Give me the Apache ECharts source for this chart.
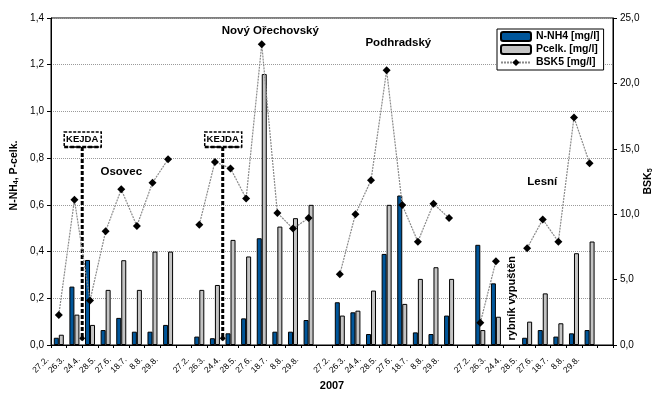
<!DOCTYPE html>
<html>
<head>
<meta charset="utf-8">
<script src="https://cdn.jsdelivr.net/npm/echarts@6/dist/echarts.min.js"></script>
<style>
html,body{margin:0;padding:0;background:#fff;}
#chart{width:655px;height:393px;}
</style>
</head>
<body>
<div id="chart"></div>
<script>
// sampling dates (repeated for each pond)
const dates = ['27.2.','26.3.','24.4.','28.5.','27.6.','18.7.','8.8.','29.8.'];
const groupNames = ['Osovec','Nový Ořechovský','Podhradský','Lesní'];

// N-NH4 [mg/l]
const nnh4Osovec = [0.031,0.25,0.364,0.064,0.116,0.057,0.057,0.086];
const nnh4Novy   = [0.036,0.029,0.05,0.114,0.457,0.057,0.057,0.107];
const nnh4Podhr  = [0.183,0.14,0.047,0.39,0.64,0.054,0.047,0.126];
const nnh4Lesni  = [0.429,0.264,null,0.031,0.064,0.036,0.05,0.064];

// Pcelk. [mg/l]
const pcelkOsovec = [0.044,0.13,0.086,0.236,0.363,0.236,0.40,0.40];
const pcelkNovy   = [0.236,0.257,0.45,0.379,1.16,0.507,0.543,0.60];
const pcelkPodhr  = [0.126,0.147,0.233,0.60,0.176,0.283,0.333,0.283];
const pcelkLesni  = [0.064,0.121,null,0.10,0.221,0.093,0.393,0.443];

// BSK5 [mg/l]
const bskOsovec = [2.3,11.1,3.4,8.7,11.9,9.1,12.4,14.2];
const bskNovy   = [9.2,14.0,13.5,11.2,23.0,10.1,8.9,9.7];
const bskPodhr  = [5.4,10.0,12.6,21.0,10.7,7.9,10.8,9.7];
const bskLesni  = [1.7,6.4,null,7.4,9.6,7.9,17.4,13.9];

// axis ticks
const leftTicks = {min:0, max:1.4, interval:0.2};
const rightTicks = {min:0, max:25, interval:5};

// build 36 slots: 4 groups of 8, each followed by a blank slot
function joinGroups(arrs, blank){
  const out = [];
  arrs.forEach(a => { a.forEach(v => out.push(v)); out.push(blank); });
  return out;
}
const categories = joinGroups([dates,dates,dates,dates], '');
const nnh4 = joinGroups([nnh4Osovec,nnh4Novy,nnh4Podhr,nnh4Lesni], null);
const pcelk = joinGroups([pcelkOsovec,pcelkNovy,pcelkPodhr,pcelkLesni], null);
const bsk = joinGroups([bskOsovec,bskNovy,bskPodhr,bskLesni], null);

const FONT = '"Liberation Sans", Arial, sans-serif';
const comma = v => v.toFixed(1).replace('.', ',');

const chart = echarts.init(document.getElementById('chart'), null, {renderer:'canvas'});
chart.setOption({
  animation:false,
  backgroundColor:'#fff',
  textStyle:{fontFamily:FONT},
  grid:{left:51,right:42,top:18,bottom:48,containLabel:false,outerBoundsMode:'none',
    show:true,borderColor:'#000',borderWidth:1,backgroundColor:'transparent'},
  legend:{
    orient:'vertical', left:497, top:29,
    backgroundColor:'#fff', borderColor:'#000', borderWidth:1,
    padding:[2,4,2,3], itemGap:2, itemWidth:30, itemHeight:9,
    textStyle:{fontFamily:FONT,fontSize:10.5,fontWeight:'bold',color:'#000'},
    data:['N-NH4 [mg/l]','Pcelk. [mg/l]','BSK5 [mg/l]']
  },
  xAxis:{
    type:'category', data:categories,
    boundaryGap:true,
    name:'2007', nameLocation:'middle', nameGap:35, nameMoveOverlap:false,
    nameTextStyle:{fontFamily:FONT,fontSize:11,fontWeight:'bold',color:'#000'},
    axisLine:{lineStyle:{color:'#000',width:1}},
    axisTick:{show:true,interval:0,length:3,lineStyle:{color:'#000'}},
    axisLabel:{interval:0,rotate:45,fontSize:8.5,color:'#000',margin:2,padding:[0,16,0,0],fontFamily:FONT},
    splitLine:{show:false}
  },
  yAxis:[{
    type:'value', min:leftTicks.min, max:leftTicks.max, interval:leftTicks.interval,
    name:'N-NH{sub|4}, P-celk.', nameLocation:'middle', nameGap:31, nameRotate:90, nameMoveOverlap:false,
    nameTextStyle:{fontFamily:FONT,fontSize:10.5,fontWeight:'bold',color:'#000',padding:[0,0,0,12],
      rich:{sub:{fontSize:7,fontWeight:'bold',verticalAlign:'bottom',padding:[4,0,0,0],fontFamily:FONT}}},
    axisLine:{show:true,lineStyle:{color:'#000',width:1}},
    axisTick:{show:true,length:4,lineStyle:{color:'#000'}},
    axisLabel:{formatter:comma,fontSize:10,color:'#000',margin:7,fontFamily:FONT},
    splitLine:{show:true,lineStyle:{color:'#9a9a9a',type:'dotted',width:1}}
  },{
    type:'value', min:rightTicks.min, max:rightTicks.max, interval:rightTicks.interval,
    position:'right',
    name:'BSK{sub|5}', nameLocation:'middle', nameGap:30, nameRotate:90, nameMoveOverlap:false,
    nameTextStyle:{fontFamily:FONT,fontSize:10.5,fontWeight:'bold',color:'#000',
      rich:{sub:{fontSize:7,fontWeight:'bold',verticalAlign:'bottom',padding:[4,0,0,0],fontFamily:FONT}}},
    axisLine:{show:true,lineStyle:{color:'#000',width:1}},
    axisTick:{show:true,length:4,lineStyle:{color:'#000'}},
    axisLabel:{formatter:comma,fontSize:10,color:'#000',margin:7,fontFamily:FONT},
    splitLine:{show:false}
  }],
  series:[{
    name:'N-NH4 [mg/l]', type:'bar', data:nnh4, yAxisIndex:0,
    barWidth:5, barGap:'0%',
    itemStyle:{color:'#00569a',borderColor:'#000',borderWidth:1}
  },{
    name:'Pcelk. [mg/l]', type:'bar', data:pcelk, yAxisIndex:0,
    barWidth:5, barGap:'0%',
    itemStyle:{color:'#c4c4c4',borderColor:'#000',borderWidth:1}
  },{
    name:'BSK5 [mg/l]', type:'line', data:bsk, yAxisIndex:1,
    connectNulls:false,
    symbol:'diamond', symbolSize:8,
    itemStyle:{color:'#000'},
    lineStyle:{color:'#8a8a8a',width:1.2,type:[2,1]}
  }]
});

// annotations positioned through the axes
function xPix(i){ return chart.convertToPixel({xAxisIndex:0}, i); }
function xMid(a, f){ const p = xPix(a); return p + (xPix(a+1)-p)*f; }
function yPix(v){ return chart.convertToPixel({yAxisIndex:0}, v); }

const graphics = [];
function label(text, x, y){
  graphics.push({type:'text', x:x, y:y,
    style:{text:text, fill:'#000', font:'bold 11.5px '+FONT, textAlign:'center', textVerticalAlign:'middle'}});
}
function kejda(iA){
  const x = xMid(iA, 0.5);
  const top = yPix(0.912), bot = yPix(0.848);
  const ground = yPix(0.02);
  graphics.push({type:'line', shape:{x1:x,y1:bot,x2:x,y2:ground},
    style:{stroke:'#000',lineWidth:3,lineDash:[4,2]}});
  graphics.push({type:'polygon', shape:{points:[[x-3,ground-2],[x,ground-5],[x+3,ground-2],[x,ground+1]]},
    style:{fill:'#000'}});
  graphics.push({type:'rect', shape:{x:x-18,y:top,width:37,height:bot-top},
    style:{fill:'#fff',stroke:'#000',lineWidth:1.5,lineDash:[3,1.5]}});
  graphics.push({type:'line', shape:{x1:x-18,y1:bot,x2:x+19,y2:bot},
    style:{stroke:'#000',lineWidth:2.5,lineDash:[4,2]}});
  graphics.push({type:'text', x:x, y:(top+bot)/2,
    style:{text:'KEJDA', fill:'#000', font:'bold 9.5px '+FONT, textAlign:'center', textVerticalAlign:'middle'}});
}
kejda(1);
kejda(10);

label(groupNames[0], xMid(3, 1.0), yPix(0.74));
label(groupNames[1], xMid(13, 0.55), yPix(1.343));
label(groupNames[2], xMid(21, 0.75), yPix(1.295));
label(groupNames[3], xMid(30, 0.97), yPix(0.698));
graphics.push({type:'text', x:xPix(29), y:yPix(0.20), rotation:Math.PI/2,
  style:{text:'rybník vypuštěn', fill:'#000', font:'bold 11px '+FONT, textAlign:'center', textVerticalAlign:'middle'}});

chart.setOption({graphic:graphics});
</script>
</body>
</html>
